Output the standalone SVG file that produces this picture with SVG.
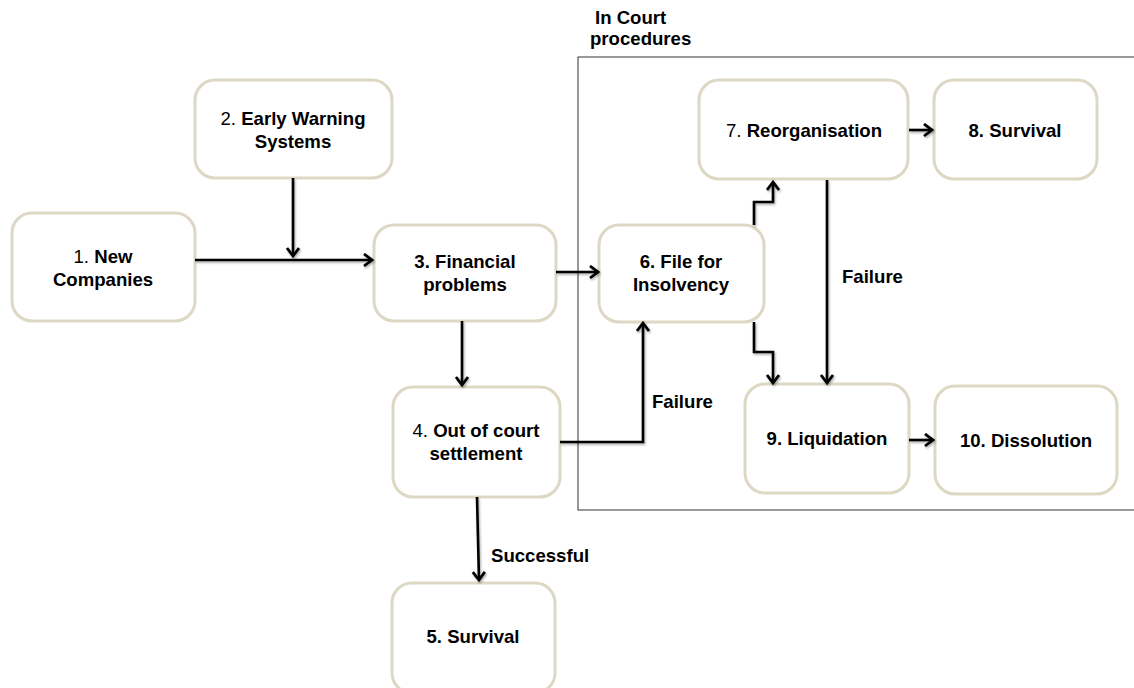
<svg xmlns="http://www.w3.org/2000/svg" width="1134" height="688" viewBox="0 0 1134 688">
<style>
.node{fill:#fff;stroke:#ddd8c4;stroke-width:3}
.t{font-family:"Liberation Sans",Arial,sans-serif;font-size:18.6px;font-weight:bold;fill:#000;text-anchor:middle}
.r{font-weight:normal}
.lbl{font-family:"Liberation Sans",Arial,sans-serif;font-size:18.6px;font-weight:bold;fill:#000}
.c{fill:none;stroke:#000;stroke-width:2.6;marker-end:url(#ah)}
</style>
<defs>
<marker id="ah" markerUnits="userSpaceOnUse" markerWidth="14" markerHeight="16" refX="9" refY="7" orient="auto">
<path d="M1,1 L9,7 L1,13" fill="none" stroke="#000" stroke-width="2.8" stroke-linejoin="miter"/>
</marker>
<filter id="sh" x="-10%" y="-10%" width="120%" height="120%">
<feDropShadow dx="1" dy="1.5" stdDeviation="1" flood-color="#000" flood-opacity="0.35"/>
</filter>
</defs>
<rect width="1134" height="688" fill="#fff"/>
<g id="court">
<rect x="578" y="57" width="600" height="453" fill="none" stroke="#333" stroke-width="1"/>
<text class="lbl" x="595" y="24">In Court</text>
<text class="lbl" x="590" y="45">procedures</text>
</g>
<g id="n1"><rect class="node" x="12" y="213" width="183" height="108" rx="20"/>
<text class="t" x="103" y="263"><tspan class="r">1. </tspan>New</text>
<text class="t" x="103" y="286">Companies</text></g>
<g id="n2"><rect class="node" x="195" y="80" width="197" height="98" rx="20"/>
<text class="t" x="293" y="125"><tspan class="r">2. </tspan>Early Warning</text>
<text class="t" x="293" y="148">Systems</text></g>
<g id="n3"><rect class="node" x="374" y="225" width="182" height="96" rx="20"/>
<text class="t" x="465" y="268">3. Financial</text>
<text class="t" x="465" y="291">problems</text></g>
<g id="n4"><rect class="node" x="393" y="387" width="167" height="110" rx="20"/>
<text class="t" x="476" y="437"><tspan class="r">4. </tspan>Out of court</text>
<text class="t" x="476" y="460">settlement</text></g>
<g id="n5"><rect class="node" x="392" y="583" width="163" height="110" rx="20"/>
<text class="t" x="473" y="643">5. Survival</text></g>
<g id="n6"><rect class="node" x="599" y="225" width="165" height="97" rx="20"/>
<text class="t" x="681" y="268">6. File for</text>
<text class="t" x="681" y="291">Insolvency</text></g>
<g id="n7"><rect class="node" x="699" y="80" width="209" height="99" rx="20"/>
<text class="t" x="804" y="137"><tspan class="r">7. </tspan>Reorganisation</text></g>
<g id="n8"><rect class="node" x="934" y="80" width="163" height="99" rx="20"/>
<text class="t" x="1015" y="137">8. Survival</text></g>
<g id="n9"><rect class="node" x="745" y="384" width="164" height="109" rx="20"/>
<text class="t" x="827" y="445">9. Liquidation</text></g>
<g id="n10"><rect class="node" x="935" y="386" width="182" height="108" rx="20"/>
<text class="t" x="1026" y="447">10. Dissolution</text></g>
<g id="connectors" filter="url(#sh)">
<path class="c" d="M195,260 L372,260"/>
<path class="c" d="M293,178 L293,256"/>
<path class="c" d="M556,272 L598,272"/>
<path class="c" d="M462,321 L462,385"/>
<path class="c" d="M560,442 L643,442 L643,323"/>
<path class="c" d="M754,225 L754,202 L773,202 L773,182"/>
<path class="c" d="M754,322 L754,352 L773,352 L773,383"/>
<path class="c" d="M827,180 L827,383"/>
<path class="c" d="M909,130 L932,130"/>
<path class="c" d="M909,440 L933,440"/>
<path class="c" d="M477,497 L479,580"/>
</g>
<g id="labels">
<text class="lbl" x="842" y="283">Failure</text>
<text class="lbl" x="652" y="408">Failure</text>
<text class="lbl" x="491" y="562">Successful</text>
</g>
</svg>
